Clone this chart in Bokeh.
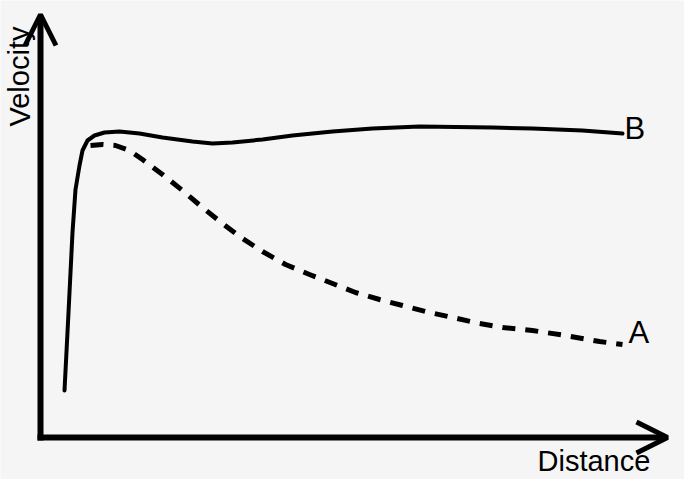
from bokeh.plotting import figure
from bokeh.models import Range1d, Arrow, OpenHead, Label, ColumnDataSource
from bokeh.embed import file_html
from bokeh.resources import INLINE

# Curve B (solid)
b_distance = [24, 28, 32, 35, 39, 42, 47, 54, 64, 79, 99, 122, 152, 172, 192, 222,
              252, 292, 332, 379, 452, 492, 542, 582]
b_velocity = [47, 125, 205, 248, 272, 287, 297, 302, 305, 306, 304, 300, 296, 294, 295, 298,
              302, 306, 309, 311, 310, 309, 307, 304]
# Curve A (dashed)
a_distance = [50, 62, 75, 89, 102, 122, 142, 162, 182, 202, 222, 245, 269, 292, 315, 339,
              362, 385, 412, 439, 462, 492, 525, 559, 582]
a_velocity = [292, 293, 292, 287, 278, 263, 247, 230, 214, 199, 186, 173, 163, 154, 145, 138,
              132, 126, 120, 114, 110, 107, 102, 96, 93]

x_axis_len = 627
y_axis_len = 423

BG = "#f5f5f5"

p = figure(width=684, height=479, output_backend="svg", toolbar_location=None,
           x_range=Range1d(-40, 644), y_range=Range1d(-42, 437),
           min_border=0, min_border_left=0, min_border_right=0,
           min_border_top=0, min_border_bottom=0)
p.axis.visible = False
p.grid.visible = False
p.outline_line_color = None
p.background_fill_color = BG
p.border_fill_color = BG

src_b = ColumnDataSource(dict(x=b_distance, y=b_velocity))
src_a = ColumnDataSource(dict(x=a_distance, y=a_velocity))
p.line("x", "y", source=src_b, line_color="black", line_width=4, line_join="round", line_cap="round")
p.line("x", "y", source=src_a, line_color="black", line_width=5, line_dash="13 10")

# Axes with arrowheads
p.add_layout(Arrow(end=OpenHead(size=31, line_width=5, line_color="black"),
                   x_start=0, y_start=-3, x_end=0, y_end=y_axis_len,
                   line_width=6, line_color="black"))
p.add_layout(Arrow(end=OpenHead(size=31, line_width=5, line_color="black"),
                   x_start=-3, y_start=0, x_end=x_axis_len, y_end=0,
                   line_width=6, line_color="black"))

font = "Liberation Sans"
p.add_layout(Label(x=-21, y=311, text="Velocity", angle=1.5708, text_align="left",
                   text_baseline="alphabetic", text_font=font, text_font_size="29px",
                   text_color="black"))
p.add_layout(Label(x=497, y=-23, text="Distance", text_align="left",
                   text_baseline="alphabetic", text_font=font, text_font_size="29px",
                   text_color="black"))
p.add_layout(Label(x=584, y=309, text="B", text_align="left",
                   text_baseline="alphabetic", text_font=font, text_font_size="31px",
                   text_color="black"))
p.add_layout(Label(x=588, y=105, text="A", text_align="left",
                   text_baseline="alphabetic", text_font=font, text_font_size="31px",
                   text_color="black"))

open("out.html", "w").write(file_html(p, INLINE))
